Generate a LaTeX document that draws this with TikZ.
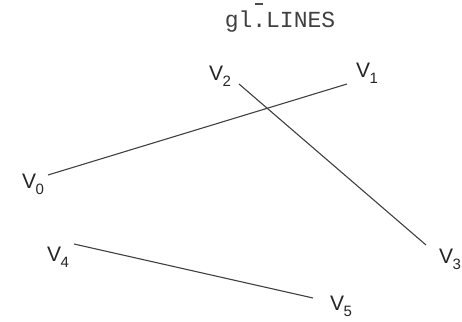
\documentclass[tikz,border=0pt]{standalone}
\usepackage{fontspec}
\setmainfont{Liberation Sans}
\newfontfamily\monof{Liberation Mono}
\newcommand{\vlab}[1]{V\kern-0.5pt\raisebox{-0.28em}{\fontsize{15}{15}\selectfont #1}}
\begin{document}
\begin{tikzpicture}[x=1pt,y=1pt,
  vlabel/.style={inner sep=0pt,font=\fontsize{21}{21}\selectfont,text=black!85},
  seg/.style={line width=1.1pt,draw=black!75}]
\useasboundingbox[fill=white] (0,0) rectangle (462,321);
% title
\node[inner sep=0pt,text=black!75,font=\monof\fontsize{23}{23}\selectfont] (title) at (280,299) {gl.LINES};
\draw[line width=1.2pt,draw=black!70] (255,317) -- (263,317);
% labels
\node[vlabel] (L0) at (33,137) {\vlab{0}};
\node[vlabel] (L1) at (367,248) {\vlab{1}};
\node[vlabel] (L2) at (220,245) {\vlab{2}};
\node[vlabel] (L3) at (450,62) {\vlab{3}};
\node[vlabel] (L4) at (58,64) {\vlab{4}};
\node[vlabel] (L5) at (341,15) {\vlab{5}};
% endpoints
\coordinate (p0) at (48,146);
\coordinate (p1) at (347,237);
\coordinate (p2) at (239,237);
\coordinate (p3) at (426,76);
\coordinate (p4) at (74,77);
\coordinate (p5) at (313,23);
\draw[seg] (p0) -- (p1);
\draw[seg] (p2) -- (p3);
\draw[seg] (p4) -- (p5);
\end{tikzpicture}
\end{document}
